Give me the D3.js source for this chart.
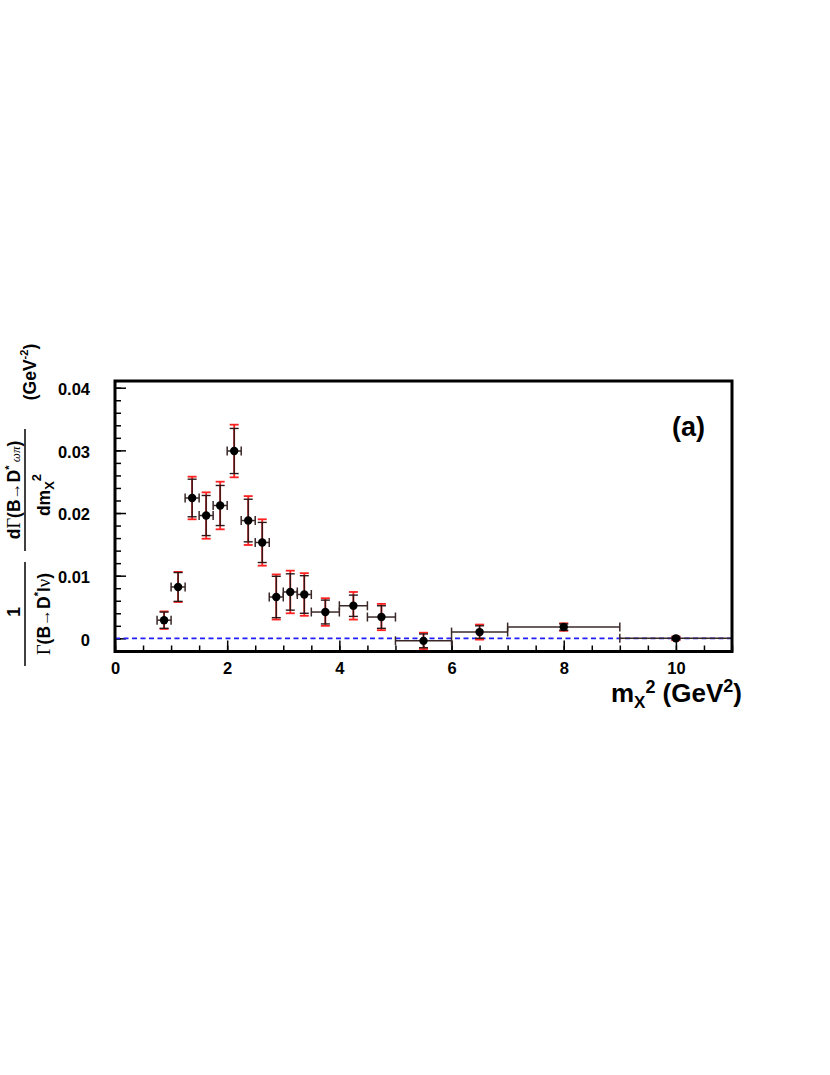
<!DOCTYPE html>
<html><head><meta charset="utf-8">
<script src="https://cdn.jsdelivr.net/npm/d3@7"></script>
<style>
body{margin:0;background:#fff;}
svg{display:block;}
text{font-family:"Liberation Sans",Arial,sans-serif;font-weight:bold;}
.serif{font-family:"Liberation Serif","Times New Roman",serif;font-weight:normal;}
.arrow{font-family:"Liberation Sans",Arial,sans-serif;font-weight:normal;}
</style></head>
<body>
<svg id="c" width="830" height="1075"></svg>
<script>
// ---- data ----
const binCenters = [0.875,1.125,1.375,1.625,1.875,2.125,2.375,2.625,2.875,3.125,3.375,3.75,4.25,4.75,5.5,6.5,8,10];
const binHalfWidths = [0.125,0.125,0.125,0.125,0.125,0.125,0.125,0.125,0.125,0.125,0.125,0.25,0.25,0.25,0.5,0.5,1,1];
const values = [0.0029,0.0082,0.0224,0.0196,0.0212,0.0299,0.0188,0.0153,0.0066,0.0074,0.0070,0.0042,0.0052,0.0034,-0.0004,0.0010,0.0018,0.0000];
const statErrors = [0.0013,0.0023,0.0030,0.0032,0.0032,0.0036,0.0034,0.0032,0.0033,0.0029,0.0030,0.0019,0.0017,0.0018,0.0011,0.0010,0.0005,0.0002];
const totalErrors = [0.0014,0.0024,0.0034,0.0037,0.0038,0.0042,0.0039,0.0037,0.0036,0.0034,0.0034,0.0022,0.0022,0.0021,0.0013,0.0012,0.0006,0.0003];
const xMajorTicks = [0,2,4,6,8,10];
const yMajorTicks = [0,0.01,0.02,0.03,0.04];
const yTickLabels = ["0","0.01","0.02","0.03","0.04"];

const points = binCenters.map((x,i)=>({x, hw:binHalfWidths[i], y:values[i], s:statErrors[i], t:totalErrors[i]}));

const svg = d3.select("#c");
const L=115, R=732, T=381, B=651.5;
const x = d3.scaleLinear().domain([0,11]).range([L,R]);
const y = d3.scaleLinear().domain([-0.0021,0.04107]).range([B,T]);

const xMinor = d3.range(0,11.001,0.5);
const yMinor = d3.range(-0.002,0.0401,0.002).map(v=>+v.toFixed(4));

const fs = 16.5;
const gx = svg.append("g").attr("transform",`translate(0,${B})`);
gx.append("g").call(d3.axisBottom(x).tickValues(xMinor).tickSize(-6).tickFormat(""))
  .call(g=>{g.select(".domain").remove(); g.selectAll("line").attr("stroke","#000").attr("stroke-width",1.5);});
gx.append("g").call(d3.axisBottom(x).tickValues(xMajorTicks).tickSize(-11).tickPadding(11).tickFormat(d3.format("d")))
  .call(g=>{g.select(".domain").remove(); g.selectAll("line").attr("stroke","#000").attr("stroke-width",1.5);
    g.selectAll("text").attr("font-size",fs).attr("font-family","Liberation Sans, Arial, sans-serif").attr("font-weight","bold").attr("fill","#000");});
const gy = svg.append("g").attr("transform",`translate(${L},0)`);
gy.append("g").call(d3.axisLeft(y).tickValues(yMinor).tickSize(-6).tickFormat(""))
  .call(g=>{g.select(".domain").remove(); g.selectAll("line").attr("stroke","#000").attr("stroke-width",1.5);});
gy.append("g").call(d3.axisLeft(y).tickValues(yMajorTicks).tickSize(-11).tickPadding(25).tickFormat((d,i)=>yTickLabels[i]))
  .call(g=>{g.select(".domain").remove(); g.selectAll("line").attr("stroke","#000").attr("stroke-width",1.5);
    g.selectAll("text").attr("font-size",fs).attr("dy","0.42em").attr("font-family","Liberation Sans, Arial, sans-serif").attr("font-weight","bold").attr("fill","#000");});

// zero line
svg.append("line").attr("x1",x(0)).attr("x2",x(11)).attr("y1",y(0)).attr("y2",y(0))
  .attr("stroke","#1f1fff").attr("stroke-width",1.6).attr("stroke-dasharray","5,3.5");

// error bars
const cap = 4.5;
const gh = svg.append("g").attr("stroke","#3a2828").attr("stroke-width",1.5);
points.forEach(p=>{
  const cy=y(p.y);
  gh.append("line").attr("x1",x(p.x-p.hw)).attr("x2",x(p.x+p.hw)).attr("y1",cy).attr("y2",cy);
  gh.append("line").attr("x1",x(p.x-p.hw)).attr("x2",x(p.x-p.hw)).attr("y1",cy-cap).attr("y2",cy+cap);
  gh.append("line").attr("x1",x(p.x+p.hw)).attr("x2",x(p.x+p.hw)).attr("y1",cy-cap).attr("y2",cy+cap);
});
function drawVBars(color, errKey, width){
  const g = svg.append("g").attr("stroke",color).attr("stroke-width",width);
  points.forEach(p=>{
    const cx=x(p.x), e=p[errKey];
    g.append("line").attr("x1",cx).attr("x2",cx).attr("y1",y(p.y+e)).attr("y2",y(p.y-e));
    g.append("line").attr("x1",cx-cap).attr("x2",cx+cap).attr("y1",y(p.y+e)).attr("y2",y(p.y+e));
    g.append("line").attr("x1",cx-cap).attr("x2",cx+cap).attr("y1",y(p.y-e)).attr("y2",y(p.y-e));
  });
}
drawVBars("#ff2020","t",1.8);
drawVBars("#2a1818","s",1.4);

svg.append("g").selectAll("circle").data(points).join("circle")
  .attr("cx",d=>x(d.x)).attr("cy",d=>y(d.y)).attr("r",4.2).attr("fill","#000");

// frame
svg.append("rect").attr("x",L).attr("y",T).attr("width",R-L).attr("height",B-T)
  .attr("fill","none").attr("stroke","#000").attr("stroke-width",3);

// (a)
svg.append("text").attr("x",705).attr("y",436).attr("text-anchor","end").attr("font-size",27).text("(a)");

// x title
const xt = svg.append("text").attr("x",742).attr("y",702).attr("text-anchor","end").attr("font-size",26);
xt.append("tspan").text("m");
xt.append("tspan").attr("font-size",17).attr("dy",6).text("X");
xt.append("tspan").attr("font-size",18).attr("dy",-15).text("2");
xt.append("tspan").attr("dy",9).text(" (GeV");
xt.append("tspan").attr("font-size",18).attr("dy",-10).text("2");
xt.append("tspan").attr("dy",10).text(")");

// y title (rotated)
const tfs = 17.5;
function rot(px,py){ return svg.append("text").attr("transform",`translate(${px},${py}) rotate(-90)`).attr("text-anchor","middle").attr("font-size",tfs); }
const n1 = rot(19.5,490);
n1.append("tspan").text("d");
n1.append("tspan").attr("class","serif").attr("font-size",18.5).text("Γ");
n1.append("tspan").text("(B");
n1.append("tspan").attr("class","arrow").attr("font-size",17).text("→");
n1.append("tspan").text("D");
n1.append("tspan").attr("font-size",11).attr("dy",-7).text("*");
n1.append("tspan").attr("class","serif").attr("font-size",13).attr("font-style","italic").attr("dy",7).text(" ωπ");
n1.append("tspan").text(")");
svg.append("line").attr("x1",25).attr("x2",25).attr("y1",429).attr("y2",551).attr("stroke","#000").attr("stroke-width",1.5);
const d1 = rot(50,495);
d1.append("tspan").text("dm");
d1.append("tspan").attr("font-size",13).attr("dy",4).text("X");
d1.append("tspan").attr("font-size",13).attr("dy",-13).text("2");
rot(19.5,612).text("1");
svg.append("line").attr("x1",25).attr("x2",25).attr("y1",562).attr("y2",666).attr("stroke","#000").attr("stroke-width",1.5);
const d2 = rot(50,614);
d2.append("tspan").attr("class","serif").attr("font-size",18.5).text("Γ");
d2.append("tspan").text("(B");
d2.append("tspan").attr("class","arrow").attr("font-size",17).text("→");
d2.append("tspan").text("D");
d2.append("tspan").attr("font-size",11).attr("dy",-8).text("*");
d2.append("tspan").attr("dy",8).text("l");
d2.append("tspan").attr("class","serif").attr("font-size",18.5).text("ν");
d2.append("tspan").text(")");
const u = rot(36,372);
u.append("tspan").text("(GeV");
u.append("tspan").attr("font-size",11).attr("dy",-8).text("-2");
u.append("tspan").attr("dy",8).text(")");
</script>
</body></html>
